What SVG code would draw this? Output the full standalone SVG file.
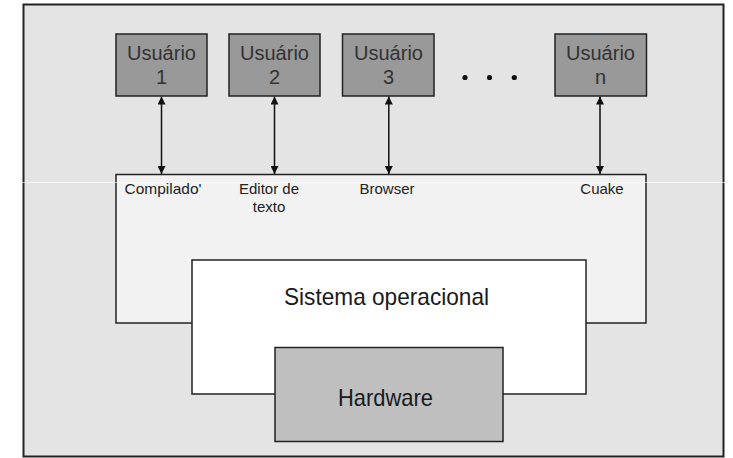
<svg xmlns="http://www.w3.org/2000/svg" width="733" height="458" viewBox="0 0 733 458">
  <defs>
    <marker id="ah" viewBox="0 0 10 10" refX="10" refY="5" markerWidth="8" markerHeight="8" markerUnits="userSpaceOnUse" orient="auto-start-reverse">
      <path d="M0,0 L10,5 L0,10 z" fill="#111"/>
    </marker>
  </defs>
  <style>
    .box { stroke: #222; stroke-width: 1.5; }
    .user { fill: #999999; }
    .ut { font-family: "Liberation Sans", Arial, sans-serif; font-size: 20px; fill: #333; text-anchor: middle; }
    .lbl { font-family: "Liberation Sans", Arial, sans-serif; font-size: 15px; fill: #222; text-anchor: middle; }
    .big { font-family: "Liberation Sans", Arial, sans-serif; font-size: 24px; fill: #1a1a1a; text-anchor: middle; }
    .conn { stroke: #111; stroke-width: 1.5; fill: none; }
  </style>
  <rect x="0" y="0" width="733" height="458" fill="#ffffff"/>
  <rect id="frame" x="23.5" y="4.5" width="700" height="452" fill="#e4e4e4" stroke="#222" stroke-width="2"/>

  <g id="aplicacoes">
    <rect class="box" x="116" y="174.5" width="530" height="148.5" fill="#f2f2f2"/>
    <text class="lbl" x="163" y="194" textLength="77" lengthAdjust="spacingAndGlyphs">Compilado'</text>
    <text class="lbl" x="269" y="194">Editor de</text>
    <text class="lbl" x="269" y="212">texto</text>
    <text class="lbl" x="387" y="194">Browser</text>
    <text class="lbl" x="602" y="194">Cuake</text>
  </g>

  <line x1="0" y1="182.5" x2="733" y2="182.5" stroke="#ffffff" stroke-opacity="0.6" stroke-width="1"/>

  <g id="sistema-operacional">
    <rect class="box" x="192" y="260" width="394" height="134" fill="#ffffff"/>
    <text class="big" x="386.5" y="304.5" textLength="205" lengthAdjust="spacingAndGlyphs">Sistema operacional</text>
  </g>

  <g id="hardware">
    <rect class="box" x="275" y="347.5" width="228" height="94" fill="#bfbfbf"/>
    <text class="big" x="385.5" y="406" textLength="95" lengthAdjust="spacingAndGlyphs">Hardware</text>
  </g>

  <g id="usuario1">
    <rect class="box user" x="116" y="34" width="91" height="62"/>
    <text class="ut" x="161.5" y="59.5" textLength="69" lengthAdjust="spacingAndGlyphs">Usuário</text>
    <text class="ut" x="161.5" y="84">1</text>
  </g>
  <g id="usuario2">
    <rect class="box user" x="229" y="34" width="91" height="62"/>
    <text class="ut" x="274.5" y="59.5" textLength="69" lengthAdjust="spacingAndGlyphs">Usuário</text>
    <text class="ut" x="274.5" y="84">2</text>
  </g>
  <g id="usuario3">
    <rect class="box user" x="342.5" y="34" width="91.5" height="62"/>
    <text class="ut" x="388.5" y="59.5" textLength="69" lengthAdjust="spacingAndGlyphs">Usuário</text>
    <text class="ut" x="388.5" y="84">3</text>
  </g>
  <g id="usuarion">
    <rect class="box user" x="555" y="34" width="91.5" height="62"/>
    <text class="ut" x="600.5" y="59.5" textLength="69" lengthAdjust="spacingAndGlyphs">Usuário</text>
    <text class="ut" x="600.5" y="84">n</text>
  </g>

  <g id="reticencias" fill="#111">
    <circle cx="465" cy="77.5" r="2.6"/>
    <circle cx="489.5" cy="77.5" r="2.6"/>
    <circle cx="514.3" cy="77.5" r="2.6"/>
  </g>

  <g id="conectores">
    <line class="conn" x1="161.5" y1="96.5" x2="161.5" y2="174" marker-start="url(#ah)" marker-end="url(#ah)"/>
    <line class="conn" x1="274.5" y1="96.5" x2="274.5" y2="174" marker-start="url(#ah)" marker-end="url(#ah)"/>
    <line class="conn" x1="388.8" y1="96.5" x2="388.8" y2="174" marker-start="url(#ah)" marker-end="url(#ah)"/>
    <line class="conn" x1="600" y1="96.5" x2="600" y2="174" marker-start="url(#ah)" marker-end="url(#ah)"/>
  </g>
</svg>
